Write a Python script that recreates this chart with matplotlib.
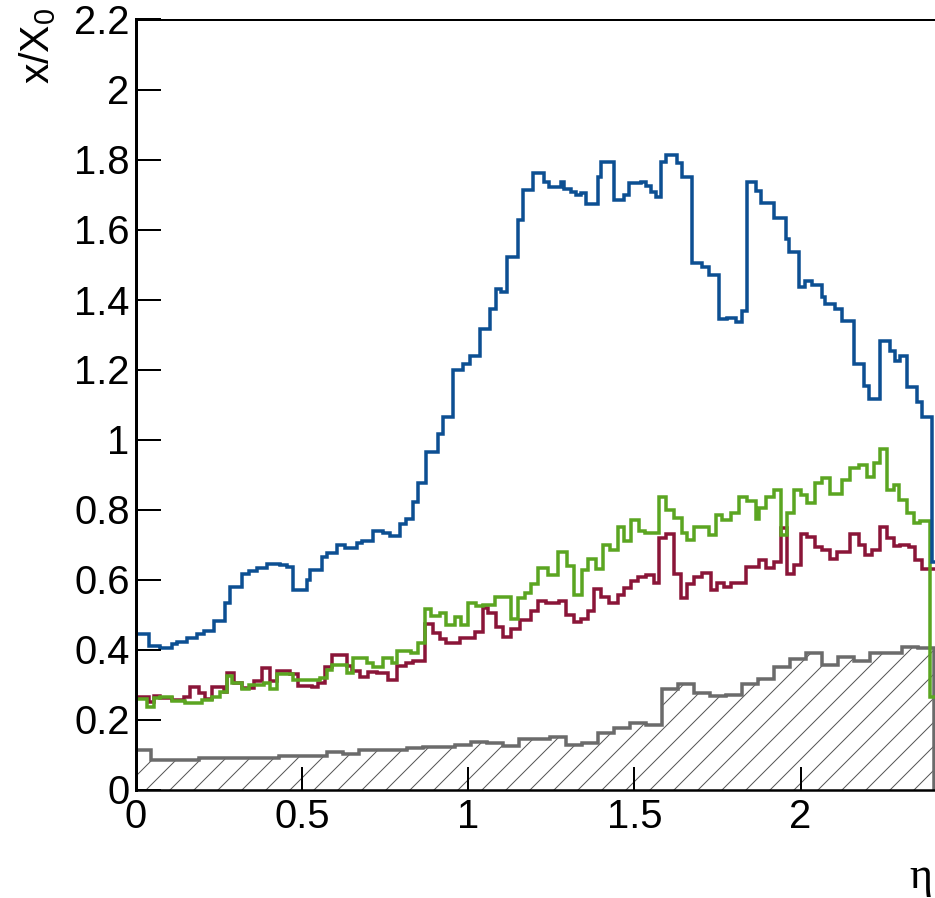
import numpy as np
import matplotlib
matplotlib.use("Agg")
import matplotlib.pyplot as plt

plt.rcParams['font.family'] = ['Liberation Sans', 'DejaVu Sans']
plt.rcParams['mathtext.fontset'] = 'custom'
plt.rcParams['mathtext.rm'] = 'Liberation Sans'
plt.rcParams['mathtext.it'] = 'Liberation Sans:italic'
plt.rcParams['hatch.linewidth'] = 1.0

# histograms run past eta = 2.4, the picture is cut there
ETA_END = 2.8

# blue: steps given as (start of step in eta, x/X0)
blue_eta = [0.000, 0.040, 0.075, 0.110, 0.125, 0.155, 0.185, 0.205, 0.235, 0.270,
            0.285, 0.320, 0.340, 0.365, 0.395, 0.435, 0.455, 0.475, 0.515, 0.525,
            0.560, 0.575, 0.605, 0.630, 0.665, 0.680, 0.715, 0.745, 0.765, 0.795,
            0.815, 0.835, 0.850, 0.875, 0.910, 0.925, 0.955, 0.985, 1.005, 1.035,
            1.065, 1.083, 1.100, 1.117, 1.150, 1.165, 1.195, 1.230, 1.245, 1.280,
            1.290, 1.310, 1.325, 1.340, 1.355, 1.390, 1.400, 1.440, 1.470, 1.485,
            1.520, 1.535, 1.550, 1.565, 1.580, 1.595, 1.630, 1.645, 1.675, 1.705,
            1.725, 1.755, 1.780, 1.805, 1.825, 1.838, 1.865, 1.882, 1.920, 1.955,
            1.965, 1.995, 2.015, 2.035, 2.065, 2.075, 2.105, 2.125, 2.160, 2.190,
            2.205, 2.240, 2.270, 2.285, 2.300, 2.320, 2.350, 2.365, 2.395]
blue_x0 = [0.443, 0.410, 0.405, 0.415, 0.422, 0.432, 0.444, 0.454, 0.482, 0.532,
           0.579, 0.616, 0.623, 0.632, 0.644, 0.641, 0.637, 0.570, 0.598, 0.627,
           0.663, 0.677, 0.700, 0.689, 0.705, 0.711, 0.740, 0.732, 0.724, 0.760,
           0.773, 0.822, 0.875, 0.965, 1.016, 1.063, 1.199, 1.215, 1.239, 1.316,
           1.373, 1.430, 1.421, 1.521, 1.627, 1.713, 1.761, 1.736, 1.722, 1.736,
           1.715, 1.708, 1.698, 1.705, 1.674, 1.751, 1.794, 1.684, 1.698, 1.733,
           1.736, 1.724, 1.708, 1.694, 1.794, 1.813, 1.789, 1.751, 1.505, 1.494,
           1.470, 1.344, 1.348, 1.336, 1.367, 1.736, 1.710, 1.675, 1.632, 1.573,
           1.537, 1.435, 1.453, 1.441, 1.408, 1.387, 1.372, 1.340, 1.216, 1.153,
           1.117, 1.281, 1.253, 1.225, 1.238, 1.151, 1.108, 1.063, 0.650]

green_eta = [0.000, 0.035, 0.055, 0.075, 0.110, 0.150, 0.200, 0.230, 0.255, 0.275,
             0.290, 0.320, 0.340, 0.385, 0.405, 0.425, 0.475, 0.555, 0.575, 0.590,
             0.635, 0.655, 0.695, 0.715, 0.745, 0.770, 0.785, 0.830, 0.850, 0.870,
             0.890, 0.915, 0.935, 0.960, 0.980, 1.000, 1.025, 1.045, 1.080, 1.130,
             1.150, 1.170, 1.190, 1.212, 1.240, 1.270, 1.297, 1.320, 1.342, 1.362,
             1.385, 1.405, 1.428, 1.450, 1.470, 1.490, 1.515, 1.532, 1.573, 1.595,
             1.620, 1.645, 1.660, 1.680, 1.725, 1.745, 1.765, 1.790, 1.815, 1.840,
             1.865, 1.875, 1.895, 1.920, 1.940, 1.960, 1.980, 2.000, 2.020, 2.045,
             2.065, 2.090, 2.125, 2.150, 2.175, 2.200, 2.220, 2.240, 2.260, 2.280,
             2.295, 2.320, 2.340, 2.360, 2.390]
green_x0 = [0.258, 0.236, 0.262, 0.265, 0.254, 0.248, 0.255, 0.265, 0.279, 0.325,
            0.303, 0.287, 0.300, 0.304, 0.287, 0.330, 0.313, 0.318, 0.341, 0.355,
            0.334, 0.377, 0.362, 0.350, 0.377, 0.362, 0.397, 0.390, 0.419, 0.517,
            0.496, 0.505, 0.470, 0.494, 0.470, 0.534, 0.524, 0.527, 0.549, 0.486,
            0.546, 0.562, 0.587, 0.632, 0.612, 0.680, 0.640, 0.555, 0.628, 0.660,
            0.630, 0.698, 0.685, 0.749, 0.710, 0.769, 0.739, 0.732, 0.836, 0.799,
            0.775, 0.732, 0.712, 0.749, 0.727, 0.785, 0.770, 0.789, 0.837, 0.823,
            0.772, 0.803, 0.837, 0.856, 0.727, 0.789, 0.856, 0.842, 0.818, 0.877,
            0.889, 0.844, 0.884, 0.918, 0.927, 0.894, 0.932, 0.972, 0.856, 0.870,
            0.827, 0.789, 0.761, 0.766, 0.265]

red_eta = [0.000, 0.040, 0.055, 0.075, 0.110, 0.145, 0.165, 0.190, 0.210, 0.230,
           0.265, 0.275, 0.295, 0.320, 0.355, 0.380, 0.405, 0.425, 0.465, 0.490,
           0.530, 0.550, 0.570, 0.590, 0.635, 0.650, 0.675, 0.700, 0.725, 0.760,
           0.785, 0.815, 0.835, 0.870, 0.895, 0.915, 0.935, 0.975, 1.020, 1.045,
           1.060, 1.085, 1.105, 1.130, 1.155, 1.190, 1.210, 1.235, 1.275, 1.295,
           1.320, 1.340, 1.360, 1.380, 1.400, 1.425, 1.450, 1.470, 1.490, 1.512,
           1.535, 1.560, 1.575, 1.595, 1.620, 1.640, 1.660, 1.680, 1.705, 1.730,
           1.750, 1.770, 1.790, 1.815, 1.835, 1.875, 1.895, 1.920, 1.940, 1.960,
           1.980, 2.000, 2.020, 2.045, 2.065, 2.090, 2.110, 2.150, 2.175, 2.195,
           2.215, 2.240, 2.260, 2.280, 2.300, 2.325, 2.345, 2.365]
red_x0 = [0.263, 0.250, 0.266, 0.262, 0.257, 0.264, 0.292, 0.275, 0.260, 0.292,
          0.280, 0.334, 0.303, 0.290, 0.310, 0.346, 0.311, 0.340, 0.330, 0.297,
          0.293, 0.305, 0.350, 0.385, 0.352, 0.340, 0.322, 0.336, 0.333, 0.312,
          0.352, 0.361, 0.366, 0.473, 0.448, 0.429, 0.419, 0.432, 0.451, 0.518,
          0.503, 0.465, 0.437, 0.458, 0.483, 0.510, 0.540, 0.532, 0.540, 0.499,
          0.480, 0.486, 0.511, 0.573, 0.549, 0.534, 0.556, 0.575, 0.596, 0.608,
          0.613, 0.589, 0.720, 0.730, 0.616, 0.546, 0.586, 0.608, 0.620, 0.570,
          0.589, 0.578, 0.589, 0.591, 0.637, 0.656, 0.632, 0.651, 0.746, 0.616,
          0.642, 0.730, 0.722, 0.694, 0.684, 0.660, 0.680, 0.730, 0.699, 0.670,
          0.684, 0.751, 0.718, 0.696, 0.699, 0.692, 0.656, 0.630]

# gray hatched histogram: 50 bins between 0 and 2.4
gray_nbins = 50
gray_range = (0.0, 2.4)
gray_x0 = [0.113, 0.084, 0.084, 0.084, 0.089, 0.089, 0.089, 0.089, 0.089, 0.096,
           0.096, 0.096, 0.108, 0.101, 0.113, 0.113, 0.113, 0.120, 0.122, 0.122,
           0.127, 0.137, 0.133, 0.124, 0.143, 0.143, 0.151, 0.127, 0.132, 0.162,
           0.175, 0.191, 0.184, 0.287, 0.302, 0.275, 0.267, 0.270, 0.302, 0.315,
           0.351, 0.372, 0.389, 0.356, 0.380, 0.366, 0.389, 0.391, 0.408, 0.403]

x_ticks = [0, 0.5, 1, 1.5, 2]
y_ticks = [0, 0.2, 0.4, 0.6, 0.8, 1.0, 1.2, 1.4, 1.6, 1.8, 2.0, 2.2]

BLUE = '#0c4f92'
RED = '#8a1538'
GREEN = '#5ba521'
GRAY = '#6b6b6b'


def edges(starts):
    return np.append(starts, ETA_END)


W, H = 935, 898
fig = plt.figure(figsize=(W / 72, H / 72), dpi=72)
# axes runs past the right border of the picture
ax = fig.add_axes([135.5 / W, 1 - 789.5 / H, ETA_END * 332.5 / W, 770 / H])

gray_edges = np.linspace(gray_range[0], gray_range[1], gray_nbins + 1)
ax.stairs(gray_x0, gray_edges, baseline=0, fill=True, facecolor='none',
          edgecolor='#555555', hatch='/', linewidth=0)
ax.stairs(gray_x0, gray_edges, baseline=0, color=GRAY, linewidth=3.5)

ax.stairs(red_x0, edges(red_eta), baseline=None, color=RED, linewidth=3.5)
ax.stairs(green_x0, edges(green_eta), baseline=None, color=GREEN, linewidth=3.5)
ax.stairs(blue_x0, edges(blue_eta), baseline=None, color=BLUE, linewidth=3.5)

ax.set_xlim(0, ETA_END)
ax.set_ylim(0, 2.2)
ax.set_xticks(x_ticks)
ax.set_xticklabels(['%g' % t for t in x_ticks])
ax.set_yticks(y_ticks)
ax.set_yticklabels(['%g' % t for t in y_ticks])
ax.minorticks_off()

ax.tick_params(axis='both', direction='in', width=2, labelsize=40, colors='black')
ax.tick_params(axis='x', length=23, pad=8)
ax.tick_params(axis='y', length=25, pad=6)

ax.spines['right'].set_visible(False)
ax.spines['left'].set_linewidth(3)
ax.spines['bottom'].set_linewidth(2.5)
ax.spines['top'].set_linewidth(2)

fig.text(38 / W, 1 - 8 / H, r'x/X$_0$', rotation=90, ha='center', va='top', fontsize=41)
fig.text(932 / W, 1 - 877 / H, '\u03b7', ha='right', va='center', fontsize=44,
         family=['Liberation Serif', 'DejaVu Serif'])

fig.savefig('out.png', dpi=72)
